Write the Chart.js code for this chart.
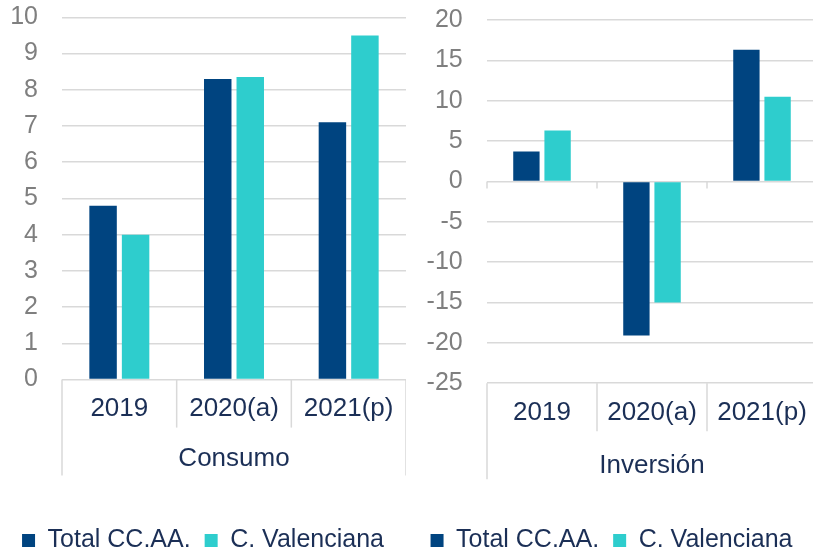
<!DOCTYPE html>
<html>
<head>
<meta charset="utf-8">
<script src="https://cdn.jsdelivr.net/npm/chart.js@4/dist/chart.umd.min.js"></script>
<style>
  body { margin: 0; background: #fff; overflow: hidden; width: 813px; height: 551px; }
  .panel { position: absolute; top: 0; }
</style>
</head>
<body>
<div class="panel" style="left:0"><canvas id="consumo" width="406" height="563"></canvas></div>
<div class="panel" style="left:406px"><canvas id="inversion" width="411" height="563"></canvas></div>
<script>
// Values (% change)
const categories = ["2019", "2020(a)", "2021(p)"];
const consumoTotal = [4.8, 8.3, 7.1];
const consumoValenciana = [4.0, 8.35, 9.5];
const inversionTotal = [3.7, -19.1, 16.3];
const inversionValenciana = [6.3, -15.0, 10.5];

const NAVY = "#004480";
const TEAL = "#2ecdcd";
const TEXT = "#1b2f56";
const GRID = "#d9d9d9";
const FONT = "'Liberation Sans', Arial, sans-serif";

// boxed category axis: dividers under the plot, taken from the x scale
const axisBox = {
  id: "axisBox",
  afterDraw(chart, args, opts) {
    const { ctx, chartArea, scales: { x, y } } = chart;
    const n = chart.data.labels.length;
    const centers = chart.data.labels.map((_, i) => x.getPixelForValue(i));
    const half = (centers[1] - centers[0]) / 2;
    const edges = [centers[0] - half];
    centers.forEach(c => edges.push(c + half));

    ctx.save();
    ctx.strokeStyle = GRID;
    ctx.lineWidth = 1.5;
    edges.forEach((px, i) => {
      const outer = i === 0 || i === n;
      ctx.beginPath();
      ctx.moveTo(px, chartArea.bottom);
      ctx.lineTo(px, chartArea.bottom + (outer ? opts.outer : opts.inner));
      if (opts.zeroTicks) {
        const y0 = y.getPixelForValue(0);
        ctx.moveTo(px, y0);
        ctx.lineTo(px, y0 + 7);
      }
      ctx.stroke();
    });
    ctx.restore();
  }
};

function buildPanel(id, title, total, valenciana, yMin, yMax, step, opts) {
  const ctx = document.getElementById(id).getContext("2d");
  return new Chart(ctx, {
    type: "bar",
    data: {
      labels: categories,
      datasets: [
        { label: "Total CC.AA.", data: total, backgroundColor: NAVY },
        { label: "C. Valenciana", data: valenciana, backgroundColor: TEAL }
      ]
    },
    options: {
      responsive: false,
      animation: false,
      barPercentage: 0.845,
      categoryPercentage: 0.567,
      layout: { padding: 0 },
      plugins: {
        legend: {
          position: "bottom",
          labels: { color: TEXT, font: { family: FONT, size: 25 }, boxWidth: 13, boxHeight: 13, padding: 14 }
        },
        tooltip: { enabled: false },
        axisBox: { inner: 48, outer: 96, zeroTicks: opts.zeroTicks }
      },
      scales: {
        x: {
          grid: { display: false, drawTicks: false },
          border: { display: false },
          afterFit: s => { s.paddingLeft = 0; s.paddingRight = 0; },
          ticks: { color: TEXT, font: { family: FONT, size: 26 }, padding: opts.tickPad, maxRotation: 0 },
          title: {
            display: true,
            text: title,
            color: TEXT,
            font: { family: FONT, size: 26 },
            padding: { top: opts.titleTop, bottom: opts.titleBottom }
          }
        },
        y: {
          min: yMin,
          max: yMax,
          afterFit: s => { s.width = opts.yWidth; s.paddingTop = opts.top; },
          ticks: {
            stepSize: step,
            autoSkip: false,
            color: "#7f7f7f",
            font: { family: FONT, size: 25 },
            padding: 0
          },
          // transparent tick marks keep the labels clear of the plot
          grid: { color: GRID, lineWidth: 1.5, drawTicks: true, tickLength: opts.yGap, tickColor: "rgba(0,0,0,0)" },
          border: { display: false }
        }
      }
    },
    plugins: [axisBox]
  });
}

buildPanel("consumo", "Consumo", consumoTotal, consumoValenciana, 0, 10, 1, {
  top: 17.3, tickPad: 14, titleTop: 4, titleBottom: 40, yWidth: 62, yGap: 24, zeroTicks: false
});
buildPanel("inversion", "Inversión", inversionTotal, inversionValenciana, -25, 20, 5, {
  top: 20, tickPad: 14, titleTop: 8, titleBottom: 32.4, yWidth: 81, yGap: 24.3, zeroTicks: true
});
</script>
</body>
</html>
